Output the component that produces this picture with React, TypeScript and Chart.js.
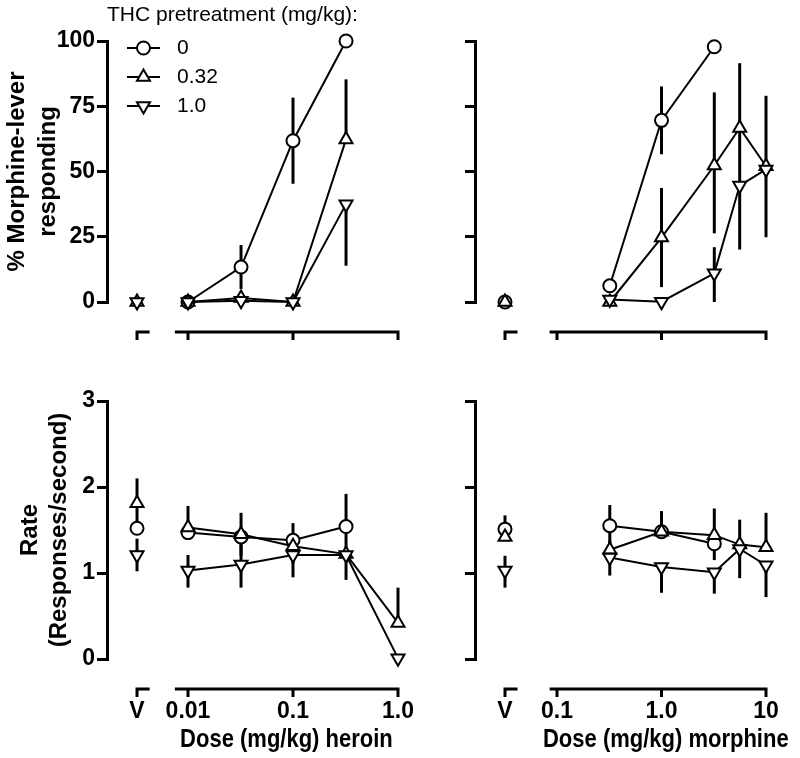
import React, { useEffect, useRef } from 'react';
import { Chart, registerables } from 'chart.js';
import { drawPoint } from 'chart.js/helpers';

Chart.register(...registerables);

// ---------------- data ----------------
const legendTitle = 'THC pretreatment (mg/kg):';
const thcDoses = ['0', '0.32', '1.0'];

const heroinDoses = [0.01, 0.032, 0.1, 0.32, 1.0];
const morphineDoses = [0.32, 1.0, 3.2, 5.6, 10];

const vehicleLabel = 'V';
const heroinTickValues = [0.01, 0.1, 1.0];
const heroinTickLabels = ['0.01', '0.1', '1.0'];
const morphineTickValues = [0.1, 1.0, 10];
const morphineTickLabels = ['0.1', '1.0', '10'];

const heroinAxisTitle = 'Dose (mg/kg) heroin';
const morphineAxisTitle = 'Dose (mg/kg) morphine';
const respTitle = ['% Morphine-lever', 'responding'];
const rateTitle = ['Rate', '(Responses/second)'];

// % morphine-lever responding, heroin; vehicle values per THC series (0, 0.32, 1.0)
const respHeroinVehicle = [null, 0, 0];
const respHeroinVehicleUp = [0, 0, 0];
const respHeroinVehicleDn = [0, 0, 0];
const respHeroinThc0 = [0, 13.4, 61.8, 100, null];
const respHeroinThc0Up = [0, 8.4, 16.5, 0, 0];
const respHeroinThc0Dn = [0, 8.4, 16.5, 0, 0];
const respHeroinThc032 = [0, 1.5, 0, 62.3, null];
const respHeroinThc032Up = [0, 0, 0, 23, 0];
const respHeroinThc032Dn = [0, 0, 0, 0, 0];
const respHeroinThc10 = [0, 0.5, 0, 37.5, null];
const respHeroinThc10Up = [0, 0, 0, 0, 0];
const respHeroinThc10Dn = [0, 0, 0, 23.6, 0];

// % morphine-lever responding, morphine
const respMorphineVehicle = [0, 0, null];
const respMorphineVehicleUp = [0, 0, 0];
const respMorphineVehicleDn = [0, 0, 0];
const respMorphineThc0 = [6.2, 69.6, 97.8, null, null];
const respMorphineThc0Up = [0, 13, 0, 0, 0];
const respMorphineThc0Dn = [0, 13, 0, 0, 0];
const respMorphineThc032 = [0, 24.7, 52.3, 66.7, 52];
const respMorphineThc032Up = [0, 19, 28, 24.8, 27];
const respMorphineThc032Dn = [0, 19, 26, 0, 0];
const respMorphineThc10 = [1.0, 0.1, 11, 44.6, 50.8];
const respMorphineThc10Up = [0, 0, 10, 24.5, 0];
const respMorphineThc10Dn = [0, 0, 11, 24.5, 26];

// Rate (responses/second), heroin
const rateHeroinVehicle = [1.52, 1.81, 1.21];
const rateHeroinVehicleUp = [0, 0.29, 0.19];
const rateHeroinVehicleDn = [0, 0.29, 0.19];
const rateHeroinThc0 = [1.47, 1.42, 1.38, 1.54, null];
const rateHeroinThc0Up = [0, 0, 0.2, 0.38, 0];
const rateHeroinThc0Dn = [0, 0, 0, 0.38, 0];
const rateHeroinThc032 = [1.53, 1.45, 1.31, 1.22, 0.42];
const rateHeroinThc032Up = [0.25, 0.25, 0, 0, 0.41];
const rateHeroinThc032Dn = [0, 0.25, 0.2, 0, 0];
const rateHeroinThc10 = [1.03, 1.10, 1.21, 1.21, 0.01];
const rateHeroinThc10Up = [0.18, 0.27, 0, 0, 0];
const rateHeroinThc10Dn = [0.2, 0.27, 0.26, 0.29, 0];

// Rate (responses/second), morphine
const rateMorphineVehicle = [1.51, 1.42, 1.03];
const rateMorphineVehicleUp = [0.16, 0, 0.17];
const rateMorphineVehicleDn = [0, 0, 0.2];
const rateMorphineThc0 = [1.55, 1.48, 1.34, null, null];
const rateMorphineThc0Up = [0.24, 0.24, 0, 0, 0];
const rateMorphineThc0Dn = [0.28, 0, 0.19, 0, 0];
const rateMorphineThc032 = [1.27, 1.48, 1.44, 1.33, 1.30];
const rateMorphineThc032Up = [0, 0, 0.31, 0, 0.40];
const rateMorphineThc032Dn = [0, 0, 0, 0, 0];
const rateMorphineThc10 = [1.18, 1.07, 1.01, 1.28, 1.09];
const rateMorphineThc10Up = [0.2, 0, 0, 0.34, 0];
const rateMorphineThc10Dn = [0.21, 0.30, 0.25, 0.34, 0.37];

// ---------------- styles ----------------
const FONT_NARROW = '"Liberation Sans Narrow", "Arial Narrow", "Liberation Sans", Arial, sans-serif';
const FONT_SANS = '"Liberation Sans", Arial, sans-serif';

const markerStyles = [
  { pointStyle: 'circle', rotation: 0, radius: 6.5 },
  { pointStyle: 'triangle', rotation: 0, radius: 7.5 },
  { pointStyle: 'triangle', rotation: 180, radius: 7.5 },
];

type Series = { vals: (number | null)[]; up: number[]; dn: number[] };

function buildDatasets(doses: number[], vPos: number, series: Series[], vVals: (number | null)[], vUp: number[], vDn: number[]) {
  const out: any[] = [];
  for (const k of [2, 1, 0]) {
    const s = series[k];
    const st = markerStyles[k];
    const common = {
      borderColor: '#000',
      borderWidth: 2,
      pointBackgroundColor: '#fff',
      pointBorderColor: '#000',
      pointBorderWidth: 2,
      pointStyle: st.pointStyle,
      pointRotation: st.rotation,
      pointRadius: st.radius,
      pointHoverRadius: st.radius,
      clip: false,
      tension: 0,
      fill: false,
    };
    out.push({
      ...common,
      label: thcDoses[k],
      showLine: true,
      data: doses
        .map((d, i) => ({ x: d, y: s.vals[i], eu: s.up[i], ed: s.dn[i] }))
        .filter((p) => p.y !== null),
    });
    if (vVals[k] !== null) {
      out.push({
        ...common,
        label: thcDoses[k] + ' vehicle',
        showLine: false,
        data: [{ x: vPos, y: vVals[k], eu: vUp[k], ed: vDn[k] }],
      });
    }
  }
  return out;
}

const errorBarPlugin = {
  id: 'errorBars',
  beforeDatasetsDraw(chart: any) {
    const ctx = chart.ctx;
    const y = chart.scales.y;
    ctx.save();
    ctx.strokeStyle = '#000';
    ctx.lineWidth = 3;
    ctx.lineCap = 'butt';
    chart.data.datasets.forEach((ds: any, di: number) => {
      const meta = chart.getDatasetMeta(di);
      ds.data.forEach((p: any, i: number) => {
        const el = meta.data[i];
        if (!el) return;
        const py = y.getPixelForValue(p.y);
        if (p.eu > 0) {
          ctx.beginPath();
          ctx.moveTo(el.x, py);
          ctx.lineTo(el.x, y.getPixelForValue(p.y + p.eu));
          ctx.stroke();
        }
        if (p.ed > 0) {
          ctx.beginPath();
          ctx.moveTo(el.x, py);
          ctx.lineTo(el.x, y.getPixelForValue(p.y - p.ed));
          ctx.stroke();
        }
      });
    });
    ctx.restore();
  },
};

const brokenAxisPlugin = {
  id: 'brokenAxis',
  afterDraw(chart: any, _a: any, o: any) {
    const ctx = chart.ctx;
    const x = chart.scales.x;
    const yLine = chart.chartArea.bottom + o.gap;
    ctx.save();
    ctx.strokeStyle = '#000';
    ctx.lineWidth = 3;
    ctx.lineCap = 'butt';
    const vx = x.getPixelForValue(o.vPos);
    const vEnd = x.getPixelForValue(o.vPos * Math.pow(10, o.vSpan));
    ctx.beginPath();
    ctx.moveTo(vx - 1.5, yLine);
    ctx.lineTo(vEnd, yLine);
    ctx.moveTo(vx, yLine);
    ctx.lineTo(vx, yLine + o.tickLen);
    ctx.stroke();
    const d0 = x.getPixelForValue(o.doseStart);
    const d1 = x.getPixelForValue(o.doseEnd);
    ctx.beginPath();
    ctx.moveTo(d0, yLine);
    ctx.lineTo(d1 + 1.5, yLine);
    o.ticks.forEach((t: number) => {
      const tx = x.getPixelForValue(t);
      ctx.moveTo(tx, yLine);
      ctx.lineTo(tx, yLine + o.tickLen);
    });
    ctx.stroke();
    if (o.title) {
      ctx.fillStyle = '#000';
      ctx.font = `bold ${o.titleSize}px ${FONT_NARROW}`;
      ctx.textAlign = 'center';
      ctx.textBaseline = 'middle';
      ctx.translate((d0 + d1) / 2 + o.titleDx, yLine + o.titleOffset);
      ctx.scale(o.titleScaleX, 1);
      ctx.fillText(o.title, 0, 0);
    }
    ctx.restore();
  },
};

const legendPlugin = {
  id: 'thcLegend',
  afterDraw(chart: any, _a: any, o: any) {
    const ctx = chart.ctx;
    ctx.save();
    ctx.fillStyle = '#000';
    ctx.font = `${o.fontSize}px ${FONT_SANS}`;
    ctx.textBaseline = 'middle';
    ctx.textAlign = 'left';
    ctx.fillText(o.title, o.x, o.titleY);
    thcDoses.forEach((lab, k) => {
      const st = markerStyles[k];
      const y = o.y0 + k * o.dy;
      ctx.strokeStyle = '#000';
      ctx.lineWidth = 2;
      ctx.beginPath();
      ctx.moveTo(o.lineX0, y);
      ctx.lineTo(o.lineX1, y);
      ctx.stroke();
      ctx.fillStyle = '#fff';
      drawPoint(ctx, { pointStyle: st.pointStyle, rotation: st.rotation, radius: st.radius, borderWidth: 2 } as any, (o.lineX0 + o.lineX1) / 2, y);
      ctx.fillStyle = '#000';
      ctx.fillText(lab, o.textX, y);
    });
    ctx.restore();
  },
};

type PanelSpec = {
  doses: number[];
  series: Series[];
  vVals: (number | null)[];
  vUp: number[];
  vDn: number[];
  vPos: number;
  xMin: number;
  xMax: number;
  doseStart: number;
  doseEnd: number;
  tickValues: number[];
  tickLabels: string[];
  titleDx: number;
  showXLabels: boolean;
  xTitle: string | null;
  xHeight: number;
  yMin: number;
  yMax: number;
  yStep: number;
  showYLabels: boolean;
  yTitle: string[] | null;
  yTitleLineHeight: number;
  yTitlePad: number;
  yWidth: number;
  legend: boolean;
};

function makeConfig(p: PanelSpec): any {
  const allTicks = [p.vPos, ...p.tickValues];
  const allLabels = [vehicleLabel, ...p.tickLabels];
  return {
    type: 'line',
    data: { datasets: buildDatasets(p.doses, p.vPos, p.series, p.vVals, p.vUp, p.vDn) },
    options: {
      animation: false,
      responsive: false,
      events: [],
      layout: { padding: { top: 41, right: 20, left: 0, bottom: 0 } },
      plugins: {
        legend: { display: false },
        tooltip: { enabled: false },
        brokenAxis: {
          gap: 30,
          tickLen: 8,
          vPos: p.vPos,
          vSpan: 0.12,
          doseStart: p.doseStart,
          doseEnd: p.doseEnd,
          ticks: p.tickValues,
          title: p.xTitle,
          titleSize: 25,
          titleScaleX: 0.88,
          titleOffset: 51,
          titleDx: p.titleDx,
        },
        thcLegend: {
          title: legendTitle,
          fontSize: 21,
          x: 107,
          titleY: 15,
          y0: 48,
          dy: 29,
          lineX0: 127,
          lineX1: 160,
          textX: 177,
        },
      },
      scales: {
        x: {
          type: 'logarithmic',
          min: p.xMin,
          max: p.xMax,
          bounds: 'data',
          grid: { display: false, drawTicks: false },
          border: { display: false },
          ticks: {
            display: p.showXLabels,
            autoSkip: false,
            maxRotation: 0,
            minRotation: 0,
            padding: 39,
            color: '#000',
            font: { family: FONT_NARROW, size: 23, weight: 'bold' },
            callback: (_v: any, i: number) => allLabels[i],
          },
          afterBuildTicks: (s: any) => {
            s.ticks = allTicks.map((v) => ({ value: v }));
          },
          afterFit: (s: any) => {
            s.height = p.xHeight;
            s.paddingLeft = 0;
            s.paddingRight = 0;
          },
        },
        y: {
          type: 'linear',
          min: p.yMin,
          max: p.yMax,
          ticks: {
            stepSize: p.yStep,
            display: p.showYLabels,
            padding: 2,
            color: '#000',
            font: { family: FONT_NARROW, size: 23, weight: 'bold' },
          },
          grid: { drawOnChartArea: false, drawTicks: true, tickLength: 10, lineWidth: 3, color: '#000' },
          border: { display: true, width: 3, color: '#000' },
          title: p.yTitle
            ? {
                display: true,
                text: p.yTitle,
                color: '#000',
                font: { family: FONT_SANS, size: 24, weight: 'bold', lineHeight: p.yTitleLineHeight },
                padding: { top: p.yTitlePad, bottom: 0 },
              }
            : { display: false },
          afterFit: (s: any) => {
            s.width = p.yWidth;
          },
        },
      },
    },
    plugins: p.legend ? [errorBarPlugin, brokenAxisPlugin, legendPlugin] : [errorBarPlugin, brokenAxisPlugin],
  };
}

const heroinAxis = {
  doses: heroinDoses,
  vPos: 0.00327,
  xMin: 0.001693,
  xMax: 1.301,
  doseStart: 0.0075,
  doseEnd: 1.0,
  tickValues: heroinTickValues,
  tickLabels: heroinTickLabels,
  titleDx: 0,
};

const morphineAxis = {
  doses: morphineDoses,
  vPos: 0.0318,
  xMin: 0.01642,
  xMax: 13.61,
  doseStart: 0.085,
  doseEnd: 10,
  tickValues: morphineTickValues,
  tickLabels: morphineTickLabels,
  titleDx: 8,
};

const panels: { spec: PanelSpec; left: number; top: number; width: number; height: number }[] = [
  {
    left: 0, top: 0, width: 430, height: 360,
    spec: {
      ...heroinAxis,
      series: [
        { vals: respHeroinThc0, up: respHeroinThc0Up, dn: respHeroinThc0Dn },
        { vals: respHeroinThc032, up: respHeroinThc032Up, dn: respHeroinThc032Dn },
        { vals: respHeroinThc10, up: respHeroinThc10Up, dn: respHeroinThc10Dn },
      ],
      vVals: respHeroinVehicle, vUp: respHeroinVehicleUp, vDn: respHeroinVehicleDn,
      showXLabels: false, xTitle: null, xHeight: 58,
      yMin: 0, yMax: 100, yStep: 25, showYLabels: true,
      yTitle: respTitle, yTitleLineHeight: 1.3, yTitlePad: 2, yWidth: 107, legend: true,
    },
  },
  {
    left: 420, top: 0, width: 380, height: 360,
    spec: {
      ...morphineAxis,
      series: [
        { vals: respMorphineThc0, up: respMorphineThc0Up, dn: respMorphineThc0Dn },
        { vals: respMorphineThc032, up: respMorphineThc032Up, dn: respMorphineThc032Dn },
        { vals: respMorphineThc10, up: respMorphineThc10Up, dn: respMorphineThc10Dn },
      ],
      vVals: respMorphineVehicle, vUp: respMorphineVehicleUp, vDn: respMorphineVehicleDn,
      showXLabels: false, xTitle: null, xHeight: 58,
      yMin: 0, yMax: 100, yStep: 25, showYLabels: false,
      yTitle: null, yTitleLineHeight: 1.2, yTitlePad: 0, yWidth: 55, legend: false,
    },
  },
  {
    left: 0, top: 360, width: 430, height: 398,
    spec: {
      ...heroinAxis,
      series: [
        { vals: rateHeroinThc0, up: rateHeroinThc0Up, dn: rateHeroinThc0Dn },
        { vals: rateHeroinThc032, up: rateHeroinThc032Up, dn: rateHeroinThc032Dn },
        { vals: rateHeroinThc10, up: rateHeroinThc10Up, dn: rateHeroinThc10Dn },
      ],
      vVals: rateHeroinVehicle, vUp: rateHeroinVehicleUp, vDn: rateHeroinVehicleDn,
      showXLabels: true, xTitle: heroinAxisTitle, xHeight: 99,
      yMin: 0, yMax: 3, yStep: 1, showYLabels: true,
      yTitle: rateTitle, yTitleLineHeight: 1.2, yTitlePad: 16, yWidth: 107, legend: false,
    },
  },
  {
    left: 420, top: 360, width: 380, height: 398,
    spec: {
      ...morphineAxis,
      series: [
        { vals: rateMorphineThc0, up: rateMorphineThc0Up, dn: rateMorphineThc0Dn },
        { vals: rateMorphineThc032, up: rateMorphineThc032Up, dn: rateMorphineThc032Dn },
        { vals: rateMorphineThc10, up: rateMorphineThc10Up, dn: rateMorphineThc10Dn },
      ],
      vVals: rateMorphineVehicle, vUp: rateMorphineVehicleUp, vDn: rateMorphineVehicleDn,
      showXLabels: true, xTitle: morphineAxisTitle, xHeight: 99,
      yMin: 0, yMax: 3, yStep: 1, showYLabels: false,
      yTitle: null, yTitleLineHeight: 1.2, yTitlePad: 0, yWidth: 55, legend: false,
    },
  },
];

function Panel({ spec, left, top, width, height }: { spec: PanelSpec; left: number; top: number; width: number; height: number }) {
  const ref = useRef<HTMLCanvasElement>(null);
  useEffect(() => {
    const chart = new Chart(ref.current as HTMLCanvasElement, makeConfig(spec));
    return () => chart.destroy();
  }, []);
  return (
    <canvas
      ref={ref}
      width={width}
      height={height}
      style={{ position: 'absolute', left, top, width, height, display: 'block' }}
    />
  );
}

export default function App() {
  return (
    <div style={{ position: 'absolute', left: 0, top: 0, width: 800, height: 758, background: '#fff', overflow: 'hidden' }}>
      {panels.map((p, i) => (
        <Panel key={i} spec={p.spec} left={p.left} top={p.top} width={p.width} height={p.height} />
      ))}
    </div>
  );
}
